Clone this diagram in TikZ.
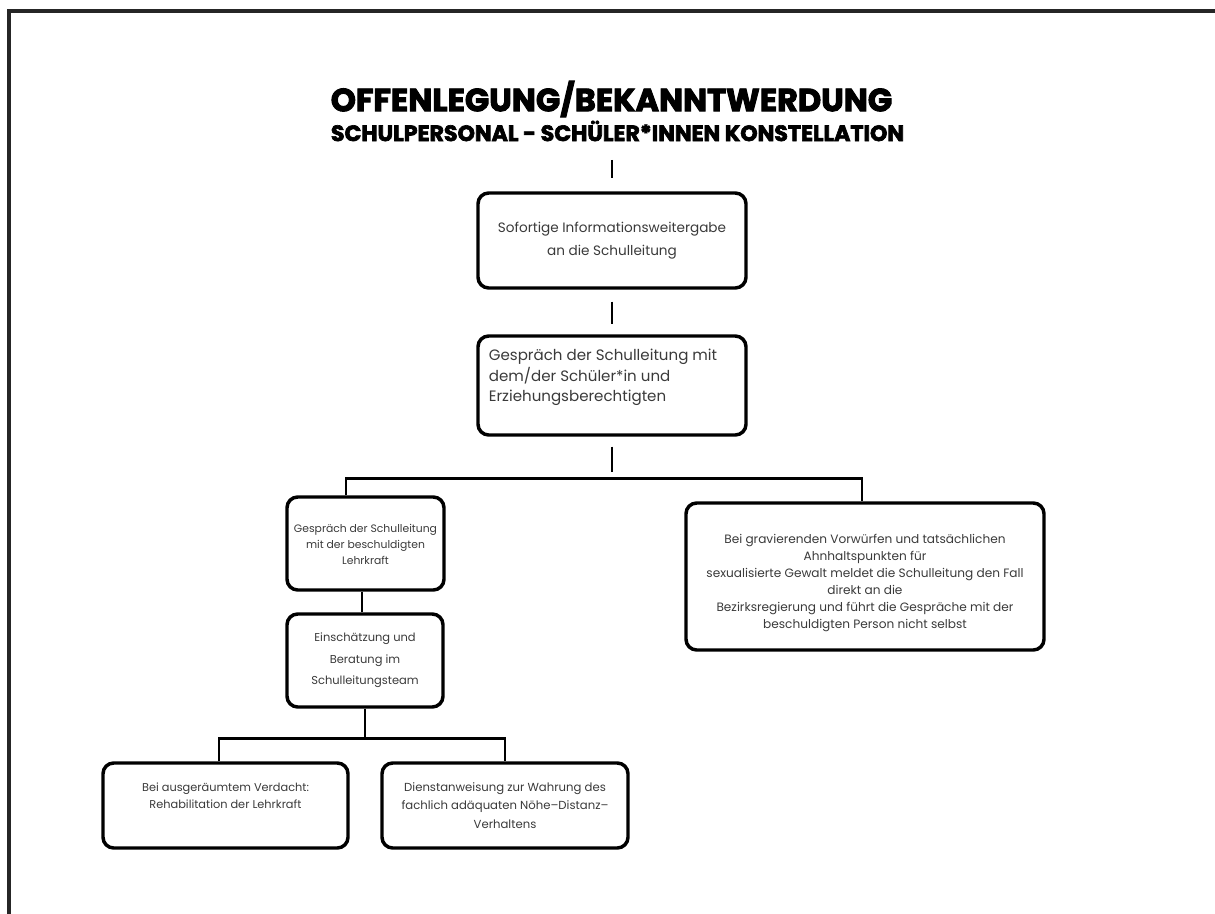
\documentclass[tikz,border=0pt]{standalone}
\usepackage{fontspec}
\setmainfont{Poppins}
\newfontfamily\titlefont{Poppins}[FakeBold=3]
\usetikzlibrary{calc}
\definecolor{txt}{HTML}{3A3A3A}
\tikzset{
  box/.style={draw=black, line width=2.6pt, rounded corners=8pt, inner sep=0pt},
  boxtext/.style={align=center, inner sep=1pt, text=txt},
  conn/.style={draw=black, line width=2pt},
}
\begin{document}
\begin{tikzpicture}[x=0.75pt,y=-0.75pt]
\useasboundingbox (0,0) rectangle (1215,914);
\draw[line width=2.4pt, black!85] (9,914) -- (9,11) -- (1215,11);

\node[font=\titlefont\bfseries\fontsize{24}{26}\selectfont] (title) at (611.5,99) {OFFENLEGUNG/BEKANNTWERDUNG};
\node[font=\titlefont\bfseries\fontsize{16.6}{18}\selectfont] (sub) at (617.5,131) {SCHULPERSONAL - SCHÜLER*INNEN KONSTELLATION};

% boxes
\node[box, minimum width=201pt, minimum height=71.25pt] (b1) at (612,240.5) {};
\node[box, minimum width=201pt, minimum height=74.25pt] (b2) at (612,385.5) {};
\node[box, minimum width=117.75pt, minimum height=69.75pt] (b3) at (365.5,543.5) {};
\node[box, minimum width=117pt, minimum height=69.75pt] (b4) at (365,660.5) {};
\node[box, minimum width=183.75pt, minimum height=63.75pt] (b5) at (225.5,805.5) {};
\node[box, minimum width=184.5pt, minimum height=63.75pt] (b6) at (505,805.5) {};
\node[box, minimum width=268.5pt, minimum height=110.25pt] (b7) at (865,576.5) {};

% texts
\node[boxtext, font=\fontsize{10.2}{17}\selectfont] (t1) at (b1)
  {Sofortige Informationsweitergabe\\an die Schulleitung};
\node[boxtext, align=left, anchor=west, font=\fontsize{11.3}{15.4}\selectfont] (t2) at ($(b2.west)+(11,-8)$)
  {Gespräch der Schulleitung mit\\dem/der Schüler*in und\\Erziehungsberechtigten};
\node[boxtext, font=\fontsize{8.1}{12}\selectfont] (t3) at ($(b3)+(0,1)$)
  {Gespräch der Schulleitung\\mit der beschuldigten\\Lehrkraft};
\node[boxtext, font=\fontsize{8.6}{16}\selectfont] (t4) at (b4)
  {Einschätzung und\\Beratung im\\Schulleitungsteam};
\node[boxtext, font=\fontsize{8.5}{13}\selectfont] (t5) at ($(b5)+(0,-10)$)
  {Bei ausgeräumtem Verdacht:\\Rehabilitation der Lehrkraft};
\node[boxtext, font=\fontsize{8.75}{14}\selectfont] (t6) at (b6)
  {Dienstanweisung zur Wahrung des\\fachlich adäquaten Nöhe–Distanz–\\Verhaltens};
\node[boxtext, font=\fontsize{9.1}{12.75}\selectfont] (t7) at ($(b7)+(0,6)$)
  {Bei gravierenden Vorwürfen und tatsächlichen\\Ahnhaltspunkten für\\sexualisierte Gewalt meldet die Schulleitung den Fall\\direkt an die\\Bezirksregierung und führt die Gespräche mit der\\beschuldigten Person nicht selbst};

% connectors
\draw[conn] (sub.south -| b1.north) ++(0,14) coordinate (c0) -- ($(b1.north)+(0,-13)$);
\draw[conn] ($(b1.south)+(0,12)$) -- ($(b2.north)+(0,-10)$);
\coordinate (j1) at ($(b2.south)+(0,42)$);
\draw[conn] ($(b2.south)+(0,10)$) -- ($(b2.south)+(0,35)$);
\draw[conn] (b3.north -| 346,0) |- (j1) -| (b7.north -| 862,0);
\draw[conn] (b3.south -| 362,0) -- (b4.north -| 362,0);
\coordinate (j2) at ($(b4.south)+(0,30)$);
\draw[conn] (b4.south) -- (j2);
\draw[conn] (b5.north -| 219,0) |- (j2) -| (b6.north -| 505,0);
\end{tikzpicture}
\end{document}
